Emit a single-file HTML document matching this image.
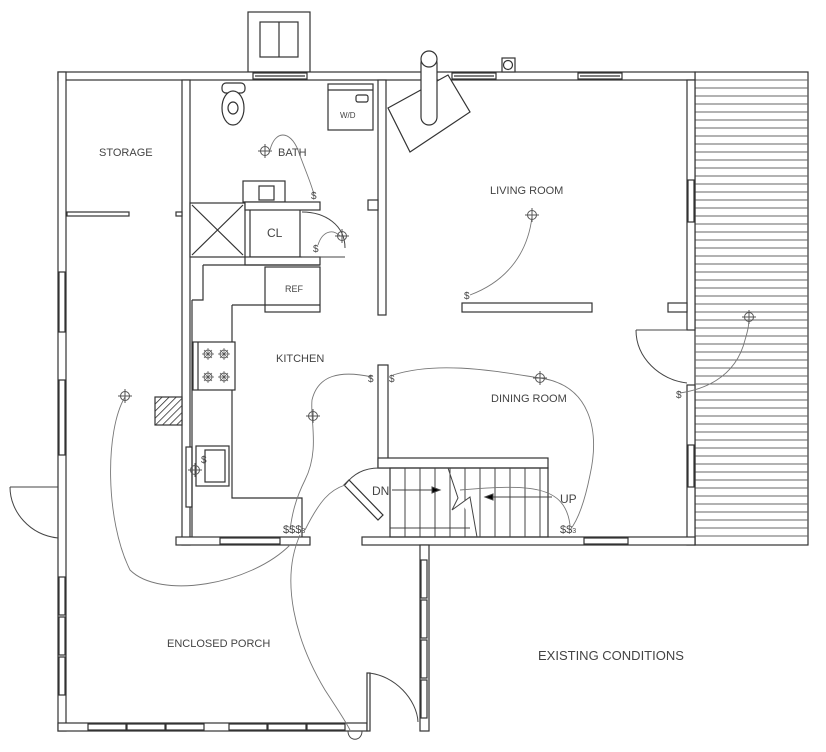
<!DOCTYPE html>
<html><head><style>html,body{margin:0;padding:0;background:#fff}svg{display:block}
text{font-family:"Liberation Sans",sans-serif;fill:#444}</style></head><body>
<svg width="826" height="752" viewBox="0 0 826 752" xmlns="http://www.w3.org/2000/svg">
<defs>
<g id="lt"><circle r="4.5" fill="none" stroke="#555" stroke-width="1"/><path d="M-7 0H7M0 -7V7" stroke="#555" stroke-width="1"/></g>
<g id="bn"><circle r="4" fill="none" stroke="#555" stroke-width="0.9"/><path d="M-6 0H6M0 -6V6M-4 -4L4 4M-4 4L4 -4" stroke="#555" stroke-width="0.7"/></g>
<pattern id="hatch" width="5" height="5" patternUnits="userSpaceOnUse" patternTransform="rotate(45)"><rect width="5" height="5" fill="#fff"/><line x1="0" y1="0" x2="0" y2="5" stroke="#222" stroke-width="1.5"/></pattern>
</defs>
<g fill="#fff" stroke="#333" stroke-width="1.2">
<rect x="695" y="72" width="113" height="473"/>
</g>
<g stroke="#666" stroke-width="1">
<path d="M695 80H808M695 88H808M695 96H808M695 104H808M695 112H808M695 120H808M695 128H808M695 136H808M695 144H808M695 152H808M695 160H808M695 168H808M695 176H808M695 184H808M695 192H808M695 200H808M695 208H808M695 216H808M695 224H808M695 232H808M695 240H808M695 248H808M695 256H808M695 264H808M695 272H808M695 280H808M695 288H808M695 296H808M695 304H808M695 312H808M695 320H808M695 328H808M695 336H808M695 344H808M695 352H808M695 360H808M695 368H808M695 376H808M695 384H808M695 392H808M695 400H808M695 408H808M695 416H808M695 424H808M695 432H808M695 440H808M695 448H808M695 456H808M695 464H808M695 472H808M695 480H808M695 488H808M695 496H808M695 504H808M695 512H808M695 520H808M695 528H808M695 536H808"/>
</g>
<g fill="#fff" stroke="#333" stroke-width="1.2">
<rect x="248" y="12" width="62" height="60"/>
<rect x="260" y="22" width="38" height="35"/><line x1="279" y1="22" x2="279" y2="57"/>
<rect x="58" y="72" width="637" height="8"/>
<rect x="58" y="72" width="8" height="659"/>
<rect x="182" y="80" width="8" height="465"/>
<rect x="378" y="80" width="8" height="235"/>
<rect x="368" y="200" width="10" height="10"/>
<rect x="687" y="80" width="8" height="250"/>
<rect x="668" y="303" width="19" height="9"/>
<rect x="687" y="385" width="8" height="160"/>
<rect x="176" y="537" width="134" height="8"/>
<rect x="362" y="537" width="333" height="8"/>
<rect x="378" y="365" width="10" height="103"/>
<rect x="378" y="458" width="170" height="10"/>
<rect x="420" y="545" width="9" height="186"/>
<rect x="58" y="723" width="309" height="8"/>
<rect x="367" y="673" width="3" height="58"/>
<rect x="67" y="212" width="62" height="4"/>
<rect x="176" y="212" width="6" height="4"/>
<rect x="462" y="303" width="130" height="9"/>
<rect x="253" y="73" width="54" height="6"/><line x1="255" y1="76" x2="305" y2="76"/>
<rect x="452" y="73" width="44" height="6"/><line x1="454" y1="76" x2="494" y2="76"/>
<rect x="578" y="73" width="44" height="6"/><line x1="580" y1="76" x2="620" y2="76"/>
<rect x="502" y="58" width="13" height="14"/><circle cx="508" cy="65" r="4.5"/>
<rect x="59" y="272" width="6" height="60"/><rect x="59" y="380" width="6" height="75"/>
<rect x="59" y="577" width="6" height="38"/><rect x="59" y="617" width="6" height="38"/><rect x="59" y="657" width="6" height="38"/>
<rect x="688" y="180" width="6" height="42"/><rect x="688" y="445" width="6" height="42"/>
<rect x="186" y="447" width="6" height="60"/>
<rect x="220" y="538" width="60" height="6"/><rect x="584" y="538" width="44" height="6"/>
<rect x="88" y="724" width="38" height="6"/><rect x="127" y="724" width="38" height="6"/><rect x="166" y="724" width="38" height="6"/>
<rect x="229" y="724" width="38" height="6"/><rect x="268" y="724" width="38" height="6"/><rect x="307" y="724" width="38" height="6"/>
<rect x="421" y="560" width="6" height="38"/><rect x="421" y="600" width="6" height="38"/><rect x="421" y="640" width="6" height="38"/><rect x="421" y="680" width="6" height="38"/>
<rect x="222" y="83" width="23" height="10" rx="4"/><ellipse cx="233" cy="108" rx="11" ry="17"/><ellipse cx="233" cy="108" rx="5" ry="6"/>
<rect x="328" y="84" width="45" height="46"/><line x1="328" y1="90" x2="373" y2="90"/><rect x="356" y="95" width="12" height="7" rx="2"/>
<rect x="243" y="181" width="42" height="21"/><rect x="259" y="186" width="15" height="14"/>
<rect x="190" y="203" width="55" height="54"/><path d="M192 205L243 255M243 205L192 255" fill="none"/>
<rect x="250" y="208" width="50" height="49"/>
<rect x="245" y="202" width="75" height="8"/><rect x="245" y="257" width="75" height="8"/>
<path d="M203 265H320M203 265V300H192M192 300V537M232 305V498H302V537M232 305H265" fill="none"/>
<rect x="265" y="267" width="55" height="45"/><line x1="265" y1="305" x2="320" y2="305"/>
<rect x="193" y="342" width="42" height="48"/><line x1="198" y1="342" x2="198" y2="390"/>
<rect x="196" y="446" width="33" height="40"/><rect x="205" y="450" width="20" height="32"/>
<rect x="155" y="397" width="27" height="28" fill="url(#hatch)"/>
<path d="M388 108L448 75L470 112L410 152Z"/>
<rect x="421" y="55" width="16" height="70" rx="8"/><circle cx="429" cy="59" r="8"/>
<rect x="390" y="468" width="158" height="69" fill="none"/>
<path d="M344 485L378 520L383 515L349 480Z"/>
</g>
<use href="#bn" x="208" y="354"/><use href="#bn" x="224" y="354"/><use href="#bn" x="208" y="377"/><use href="#bn" x="224" y="377"/>
<g stroke="#444" stroke-width="1" fill="none">
<path d="M405 468V537M420 468V537M435 468V537M450 468V537M465 468V537M480 468V537M495 468V537M510 468V537M525 468V537M540 468V537"/>
<path d="M390 528H470"/>
<path d="M448 468L458 498L452 510L470 497L477 537" fill="#fff"/>
<path d="M392 490H440"/><path d="M485 497H552"/>
<path d="M440 490L432 487V493Z" fill="#000"/><path d="M485 497L493 494V500Z" fill="#000"/>
<path d="M302 212C325 212 345 225 345 248"/><path d="M302 257H345"/>
<path d="M379 468C360 468 350 478 345 485"/>
<path d="M10 487H58"/><path d="M10 487C10 512 30 535 58 538"/>
<path d="M636 330H687"/><path d="M636 330C636 358 660 380 687 383"/>
<path d="M368 673C395 675 417 700 418 722"/>
<path d="M348 731C348 742 362 742 362 731"/>
</g>
<g stroke="#777" stroke-width="0.9" fill="none">
<path d="M270 150C275 130 290 130 298 150C305 170 312 185 314 195"/>
<path d="M318 245C322 232 332 228 340 236"/>
<path d="M470 295C510 280 528 250 532 217"/>
<path d="M372 377C340 370 318 375 312 400C310 420 320 450 305 480C295 500 292 515 290 530"/>
<path d="M393 375C440 360 500 372 540 378C590 385 600 430 590 475C585 500 578 520 570 530"/>
<path d="M125 397C105 430 105 520 130 570C160 600 250 585 290 545"/>
<path d="M300 535C280 580 295 640 325 690C338 710 345 720 350 730"/>
<path d="M345 485C330 490 320 500 305 530"/>
<path d="M570 525C565 485 530 484 460 490"/>
<path d="M680 393C700 390 735 380 745 340C748 330 749 325 749 318"/>
</g>
<g>
<use href="#lt" x="265" y="151"/><use href="#lt" x="342" y="236"/><use href="#lt" x="532" y="215"/>
<use href="#lt" x="313" y="416"/><use href="#lt" x="540" y="378"/><use href="#lt" x="125" y="396"/>
<use href="#lt" x="749" y="317"/><use href="#lt" x="195" y="470"/>
</g>
<g font-size="11">
<text x="99" y="156">STORAGE</text>
<text x="278" y="156">BATH</text>
<text x="490" y="194">LIVING ROOM</text>
<text x="276" y="362">KITCHEN</text>
<text x="491" y="402">DINING ROOM</text>
<text x="167" y="647">ENCLOSED PORCH</text>
<text x="538" y="660" font-size="13">EXISTING CONDITIONS</text>
<text x="267" y="237" font-size="12">CL</text>
<text x="285" y="292" font-size="9">REF</text>
<text x="340" y="118" font-size="8">W/D</text>
<text x="372" y="495" font-size="12" fill="#111">DN</text>
<text x="560" y="503" font-size="12" fill="#111">UP</text>
<text x="311" y="199" font-size="10">$</text>
<text x="313" y="252" font-size="10">$</text>
<text x="464" y="299" font-size="10">$</text>
<text x="368" y="382" font-size="10">$</text>
<text x="389" y="382" font-size="10">$</text>
<text x="676" y="398" font-size="10">$</text>
<text x="201" y="463" font-size="10">$</text>
<text x="283" y="533" font-size="11">$$$<tspan font-size="7">3</tspan></text>
<text x="560" y="533" font-size="11">$$<tspan font-size="7">3</tspan></text>
</g>
</svg>
</body></html>
